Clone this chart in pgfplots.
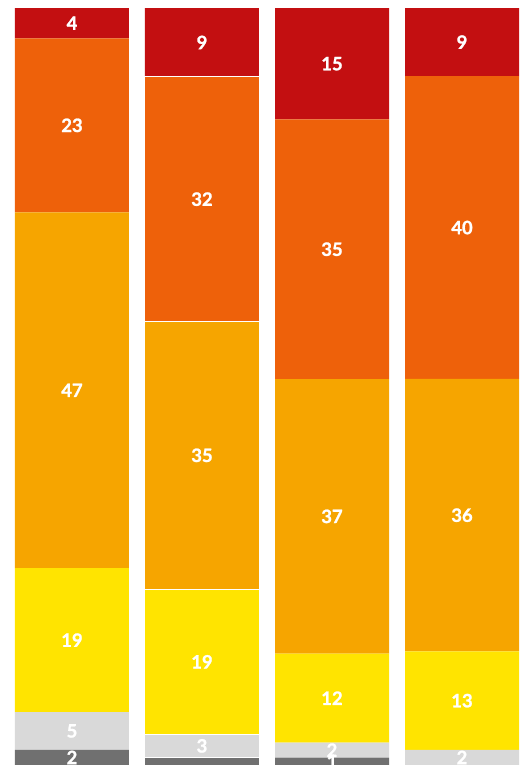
\documentclass[border=0pt]{standalone}
\usepackage{pgfplots}
\usepackage{pgfplotstable}
\pgfplotsset{compat=1.18}
\usepackage{fontspec}
\setmainfont{Lato}[BoldFeatures={FakeBold=1.3}]

\definecolor{cRd}{HTML}{C30F11}
\definecolor{cOr}{HTML}{EE610A}
\definecolor{cOy}{HTML}{F6A500}
\definecolor{cYe}{HTML}{FFE400}
\definecolor{cLg}{HTML}{D9D9D9}
\definecolor{cDg}{HTML}{707070}

% shares per group (bottom to top), row total, label for the darkest segment
\pgfplotstableread{
x dg lg ye oy or rd tot ldg
0 2  5 19 47 23  4 100 2
1 1  3 19 35 32  9  99 {}
2 1  2 12 37 35 15 102 1
3 0  2 13 36 40  9 100 {}
}\shares

\pgfplotsset{
  base/.style={
    width=528bp, height=765bp, scale only axis, hide axis,
    xmin=-0.5538, xmax=3.5077, ymin=0, ymax=101.06, clip=false,
    at={(0,0)}, anchor=south west,
  },
  lbl/.style={
    draw=none, mark=none, nodes near coords, nodes near coords align=center,
    point meta=explicit symbolic,
    every node near coord/.append style={
      text=white, font=\bfseries\fontsize{18.5}{20}\selectfont, inner sep=0pt},
  },
}

\begin{document}
\begin{tikzpicture}
\useasboundingbox (0,0) rectangle (528bp,765bp);

% stacked bars, each segment scaled to its row total
\begin{axis}[base, ybar stacked, bar width=114bp]
\addplot[fill=cDg, draw=none] table[x=x, y expr=\thisrow{dg}*100/\thisrow{tot}] {\shares};
\addplot[fill=cLg, draw=none] table[x=x, y expr=\thisrow{lg}*100/\thisrow{tot}] {\shares};
\addplot[fill=cYe, draw=none] table[x=x, y expr=\thisrow{ye}*100/\thisrow{tot}] {\shares};
\addplot[fill=cOy, draw=none] table[x=x, y expr=\thisrow{oy}*100/\thisrow{tot}] {\shares};
\addplot[fill=cOr, draw=none] table[x=x, y expr=\thisrow{or}*100/\thisrow{tot}] {\shares};
\addplot[fill=cRd, draw=none] table[x=x, y expr=\thisrow{rd}*100/\thisrow{tot}] {\shares};
\end{axis}

% thin white separators on the second group
\begin{axis}[base, ybar stacked, bar width=114bp, restrict x to domain=1:1]
\addplot[fill=none, draw=white, line width=1bp] table[x=x, y expr=\thisrow{dg}*100/\thisrow{tot}] {\shares};
\addplot[fill=none, draw=white, line width=1bp] table[x=x, y expr=\thisrow{lg}*100/\thisrow{tot}] {\shares};
\addplot[fill=none, draw=white, line width=1bp] table[x=x, y expr=\thisrow{ye}*100/\thisrow{tot}] {\shares};
\addplot[fill=none, draw=white, line width=1bp] table[x=x, y expr=\thisrow{oy}*100/\thisrow{tot}] {\shares};
\addplot[fill=none, draw=white, line width=1bp] table[x=x, y expr=\thisrow{or}*100/\thisrow{tot}] {\shares};
\end{axis}

% value labels at segment centres
\begin{axis}[base]
\addplot[lbl] table[x=x, y expr=\thisrow{dg}/2*100/\thisrow{tot}, meta=ldg] {\shares};
\addplot[lbl] table[x=x, y expr=(\thisrow{dg}+\thisrow{lg}/2)*100/\thisrow{tot}, meta=lg] {\shares};
\addplot[lbl] table[x=x, y expr=(\thisrow{dg}+\thisrow{lg}+\thisrow{ye}/2)*100/\thisrow{tot}, meta=ye] {\shares};
\addplot[lbl] table[x=x, y expr=(\thisrow{dg}+\thisrow{lg}+\thisrow{ye}+\thisrow{oy}/2)*100/\thisrow{tot}, meta=oy] {\shares};
\addplot[lbl] table[x=x, y expr=(\thisrow{dg}+\thisrow{lg}+\thisrow{ye}+\thisrow{oy}+\thisrow{or}/2)*100/\thisrow{tot}, meta=or] {\shares};
\addplot[lbl] table[x=x, y expr=(\thisrow{tot}-\thisrow{rd}/2)*100/\thisrow{tot}, meta=rd] {\shares};
\end{axis}
\end{tikzpicture}
\end{document}
